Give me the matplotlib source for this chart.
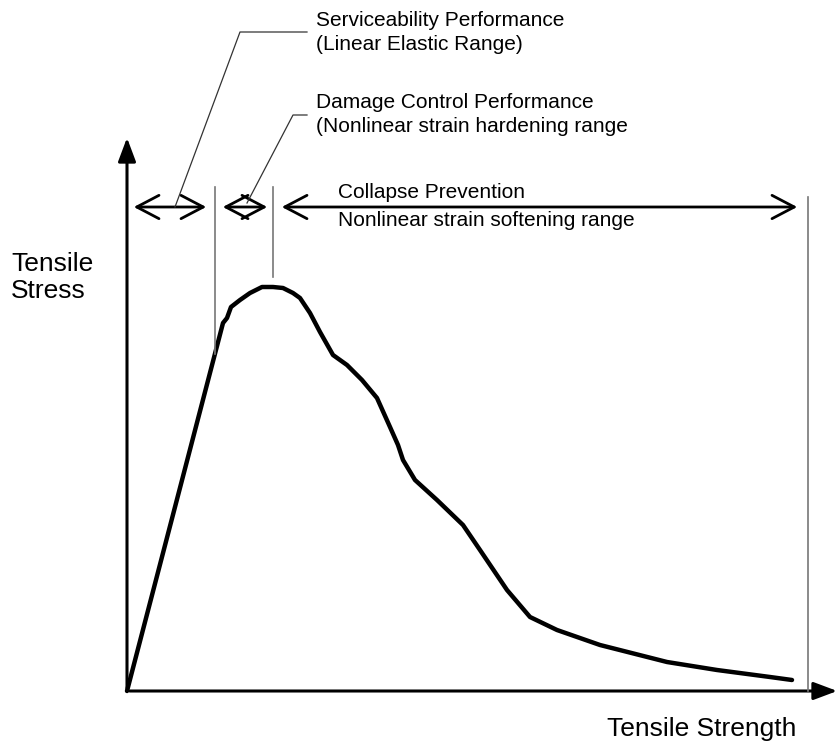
import matplotlib.pyplot as plt
from matplotlib.patches import FancyArrowPatch

plt.rcParams['font.family'] = ['Liberation Sans', 'DejaVu Sans']

# stress-strain curve (arbitrary units, origin at axes corner)
strain = [0, 96, 100, 104, 113, 123, 135, 146, 156, 166, 173, 183, 193, 206,
          220, 235, 250, 263, 271, 276, 288, 310, 336, 353, 380, 403, 430,
          473, 540, 590, 643, 665]
stress = [0, 368, 373, 384, 391, 398, 404, 404, 403, 398, 393, 378, 359, 336,
          326, 311, 293, 264, 246, 231, 211, 191, 166, 141, 101, 74, 61,
          46, 29, 21, 14, 11]

# range boundaries and labels
boundaries = [88, 146, 681]
ranges = [(4, 82), (93, 143), (152, 673)]
range_level = 484


def stress_at(x):
    for i in range(len(strain) - 1):
        if strain[i] <= x <= strain[i + 1]:
            t = (x - strain[i]) / (strain[i + 1] - strain[i])
            return stress[i] + t * (stress[i + 1] - stress[i])
    return 0


fig = plt.figure(figsize=(8.4, 7.46), dpi=100)
ax = fig.add_axes([0, 0, 1, 1])
ax.set_xlim(-127, 713)
ax.set_ylim(-55, 691)
ax.axis('off')

# axes with arrows
ax.add_patch(FancyArrowPatch((0, 0), (0, 556), arrowstyle='-|>,head_length=1.2,head_width=0.45',
                             mutation_scale=12, lw=2.2, color='black'))
ax.add_patch(FancyArrowPatch((0, 0), (713, 0), arrowstyle='-|>,head_length=1.2,head_width=0.45',
                             mutation_scale=12, lw=2.2, color='black'))

ax.plot(strain, stress, color='black', lw=3.2, solid_capstyle='round', solid_joinstyle='round')

# boundary lines
tops = [504, 504, 494]
bottoms = [stress_at(boundaries[0]), stress_at(boundaries[1]) + 10, 0]
for x, top, bot in zip(boundaries, tops, bottoms):
    ax.plot([x, x], [bot, top], color='#777777', lw=1.2)

for x0, x1 in ranges:
    ax.add_patch(FancyArrowPatch((x0, range_level), (x1, range_level),
                                 arrowstyle='<->,head_length=0.8,head_width=0.42',
                                 mutation_scale=20, lw=2, color='black'))

# leader lines
ax.plot([48, 113, 180], [484, 659, 659], color='#333333', lw=0.9)
ax.plot([120, 166, 180], [488, 576, 576], color='#333333', lw=0.9)

fs = 15
ax.text(189, 670, 'Serviceability Performance', fontsize=fs, va='center')
ax.text(189, 647, '(Linear Elastic Range)', fontsize=fs, va='center')
ax.text(189, 588, 'Damage Control Performance', fontsize=fs, va='center')
ax.text(189, 565, '(Nonlinear strain hardening range', fontsize=fs, va='center')
ax.text(211, 499, 'Collapse Prevention', fontsize=fs, va='center')
ax.text(211, 470, 'Nonlinear strain softening range', fontsize=fs, va='center')
ax.text(-116, 427, 'Tensile', fontsize=19, va='center')
ax.text(-116, 400, 'Stress', fontsize=19, va='center')
ax.text(480, -38, 'Tensile Strength', fontsize=19, va='center')

fig.savefig('out.png', dpi=100)
